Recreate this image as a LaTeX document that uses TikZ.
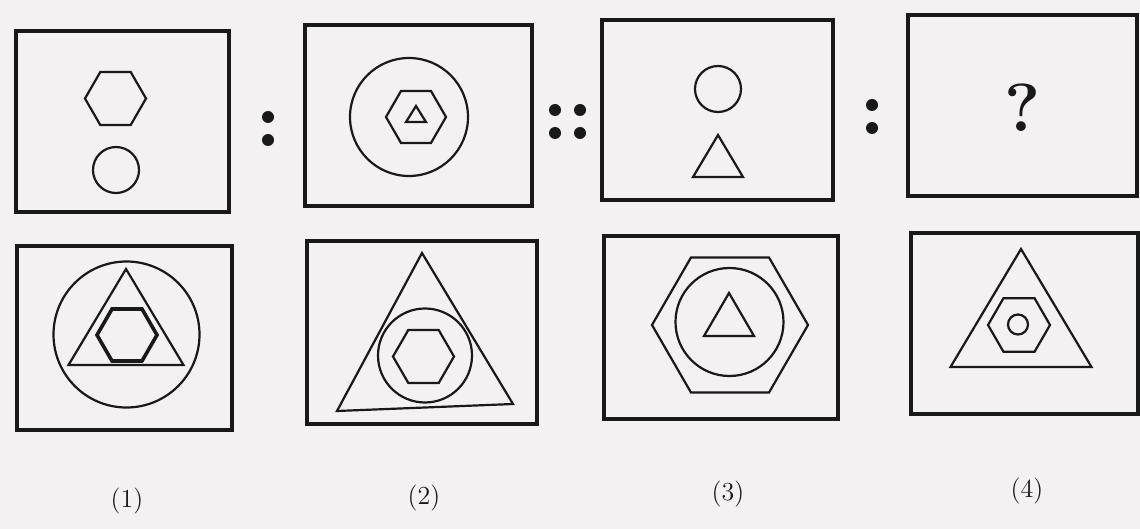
\documentclass[tikz,border=0pt]{standalone}
\usepackage{tikz}
\usetikzlibrary{positioning}
\definecolor{paper}{RGB}{243,241,241}
\definecolor{ink}{RGB}{25,25,25}
\tikzset{
  frame/.style={draw=ink, line width=1.8pt},
  fig/.style={draw=ink, line width=1.1pt},
  pdot/.style={fill=ink},
  optlabel/.style={font=\fontsize{13}{15}\selectfont, text=ink},
}
% hexagon with flat top: centre x, centre y, radius
\newcommand{\hexa}[4][]{\draw[fig,#1] (#2,#3) +(0:#4) -- +(60:#4) -- +(120:#4)
  -- +(180:#4) -- +(240:#4) -- +(300:#4) -- cycle;}
% triangle pointing up: centre x, base y, width, height
\newcommand{\tri}[5][]{\draw[fig,#1] (#2,{#3-#5}) -- ({#2-#4/2},#3) -- ({#2+#4/2},#3) -- cycle;}

\begin{document}
\begin{tikzpicture}[x=0.5pt, y=-0.5pt]
    % Background
    \fill[paper] (0,0) rectangle (1140,529);
    \useasboundingbox (0,0) rectangle (1140,529);

    % Question figures
    \draw[frame] (16,31) rectangle (229,212);
    \hexa{115.5}{98.5}{30.5}
    \draw[fig] (116,170) circle (23);

    \draw[frame] (305,25) rectangle (532,206);
    \draw[fig] (409,117) circle (59);
    \hexa{416}{117}{30}
    \tri{416}{122}{20}{16}

    \draw[frame] (602,20) rectangle (833,200);
    \draw[fig] (718,89) circle (23);
    \tri{718}{177}{50}{42}

    \draw[frame] (908,15) rectangle (1137,196);
    \node[font=\fontsize{34}{40}\selectfont\bfseries, text=ink] (qmark) at (1023,108) {?};

    % Ratio signs
    \foreach \y in {117,140} {
        \fill[pdot] (268,\y) circle (6);
    }
    \foreach \x in {555,580} {
        \foreach \y in {110,133} {
            \fill[pdot] (\x,\y) circle (6);
        }
    }
    \foreach \y in {105,128} {
        \fill[pdot] (872,\y) circle (6);
    }

    % Answer figures
    \draw[frame] (17,246) rectangle (232,430);
    \draw[fig] (126.5,334.5) circle (73);
    \tri{126}{365}{115}{96}
    \hexa[line width=1.8pt]{127}{335}{30}

    \draw[frame] (307,241) rectangle (537,424);
    \draw[fig] (422,253) -- (337,411) -- (513,404) -- cycle;
    \draw[fig] (425,355.5) circle (47);
    \hexa{423.5}{356.5}{30.5}

    \draw[frame] (604,236) rectangle (838,419);
    \hexa{730}{325}{78}
    \draw[fig] (729.5,322) circle (54);
    \tri{729}{336}{50}{43}

    \draw[frame] (911,233) rectangle (1138,414);
    \tri{1021}{367}{141}{118}
    \hexa{1019}{325}{31}
    \draw[fig] (1018,324.5) circle (10);

    % Option numbers
    \node[optlabel] (opt1) at (127,501) {(1)};
    \node[optlabel] (opt2) at (424,498) {(2)};
    \node[optlabel] (opt3) at (728,494) {(3)};
    \node[optlabel] (opt4) at (1027,491) {(4)};
\end{tikzpicture}
\end{document}
